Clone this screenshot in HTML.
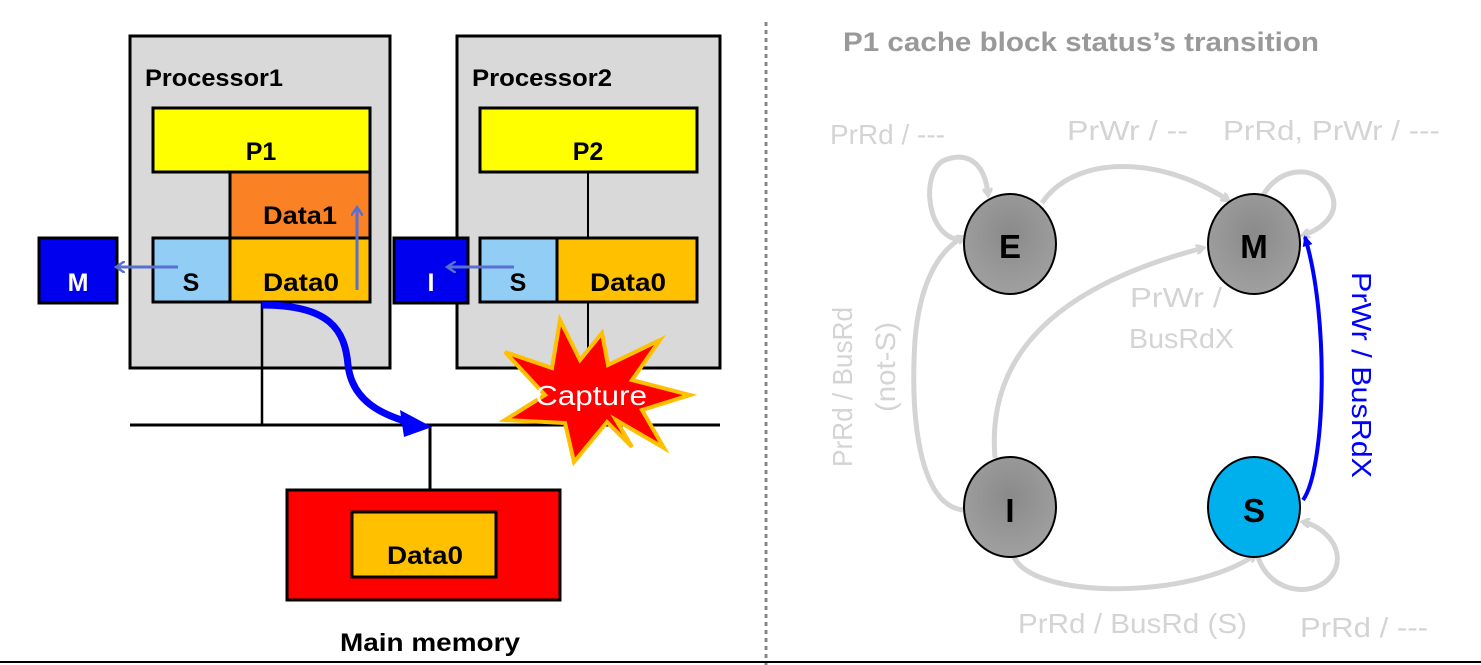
<!DOCTYPE html>
<html><head><meta charset="utf-8"><style>
body{margin:0;background:#fff}
svg{display:block}
text{font-family:"Liberation Sans",sans-serif}
</style></head><body>
<svg width="1481" height="665" viewBox="0 0 1481 665" xmlns="http://www.w3.org/2000/svg">
<defs>
<marker id="ag" markerWidth="10" markerHeight="10" refX="7" refY="5" orient="auto" markerUnits="userSpaceOnUse"><path d="M0,0 L8,5 L0,10" fill="none" stroke="#d4d4d4" stroke-width="3"/></marker>
<marker id="al" markerWidth="12" markerHeight="12" refX="8" refY="6" orient="auto" markerUnits="userSpaceOnUse"><path d="M0,0 L9,6 L0,12" fill="none" stroke="#5b6fd0" stroke-width="2.5"/></marker>
<marker id="abl" markerWidth="12" markerHeight="12" refX="9" refY="6" orient="auto" markerUnits="userSpaceOnUse"><path d="M0,1 L11,6 L0,11 z" fill="#00f"/></marker>
<radialGradient id="gg" cx="50%" cy="40%" r="60%"><stop offset="0" stop-color="#8a8a8a"/><stop offset="1" stop-color="#a0a0a0"/></radialGradient>
</defs>
<rect x="130" y="36" width="260" height="332" fill="#d9d9d9" stroke="#000" stroke-width="3"/>
<rect x="457" y="36" width="263" height="332" fill="#d9d9d9" stroke="#000" stroke-width="3"/>
<text x="145" y="86" font-size="24" font-weight="bold" textLength="138" lengthAdjust="spacingAndGlyphs">Processor1</text>
<text x="472" y="86" font-size="24" font-weight="bold" textLength="140" lengthAdjust="spacingAndGlyphs">Processor2</text>
<line x1="262" y1="302" x2="262" y2="425" stroke="#000" stroke-width="2.5"/>
<line x1="588" y1="172" x2="588" y2="238" stroke="#000" stroke-width="2"/>
<line x1="588" y1="302" x2="588" y2="380" stroke="#000" stroke-width="2"/>
<line x1="130" y1="425" x2="720" y2="425" stroke="#000" stroke-width="3"/>
<line x1="430" y1="425" x2="430" y2="490" stroke="#000" stroke-width="3"/>
<rect x="153" y="108" width="217" height="64" fill="#ffff00" stroke="#000" stroke-width="3"/>
<text x="261" y="160" font-size="25" font-weight="bold" text-anchor="middle">P1</text>
<rect x="230" y="172" width="140" height="66" fill="#fb8224" stroke="#000" stroke-width="3"/>
<text x="263" y="224" font-size="25" font-weight="bold" textLength="74" lengthAdjust="spacingAndGlyphs">Data1</text>
<rect x="153" y="238" width="77" height="64" fill="#92cdf5" stroke="#000" stroke-width="3"/>
<rect x="230" y="238" width="140" height="64" fill="#ffc000" stroke="#000" stroke-width="3"/>
<text x="191" y="291" font-size="25" font-weight="bold" text-anchor="middle">S</text>
<text x="263" y="291" font-size="25" font-weight="bold" textLength="76" lengthAdjust="spacingAndGlyphs">Data0</text>
<rect x="39" y="238" width="78" height="65" fill="#0000ee" stroke="#000" stroke-width="3"/>
<text x="78" y="291" font-size="25" font-weight="bold" fill="#fff" text-anchor="middle">M</text>
<line x1="178" y1="267" x2="117" y2="267" stroke="#5b6fd0" stroke-width="3" marker-end="url(#al)"/>
<line x1="357" y1="290" x2="357" y2="208" stroke="#5b6fd0" stroke-width="3" marker-end="url(#al)"/>
<rect x="480" y="108" width="217" height="64" fill="#ffff00" stroke="#000" stroke-width="3"/>
<text x="588" y="160" font-size="25" font-weight="bold" text-anchor="middle">P2</text>
<rect x="480" y="238" width="77" height="64" fill="#92cdf5" stroke="#000" stroke-width="3"/>
<rect x="557" y="238" width="140" height="64" fill="#ffc000" stroke="#000" stroke-width="3"/>
<text x="518" y="291" font-size="25" font-weight="bold" text-anchor="middle">S</text>
<text x="590" y="291" font-size="25" font-weight="bold" textLength="76" lengthAdjust="spacingAndGlyphs">Data0</text>
<rect x="394" y="238" width="74" height="65" fill="#0000ee" stroke="#000" stroke-width="3"/>
<text x="431" y="291" font-size="25" font-weight="bold" fill="#fff" text-anchor="middle">I</text>
<line x1="514" y1="267" x2="448" y2="267" stroke="#5b6fd0" stroke-width="3" marker-end="url(#al)"/>
<path d="M262,305 C330,305 345,330 348,365 C352,400 380,415 415,424" fill="none" stroke="#0000ff" stroke-width="7"/>
<path d="M400,410 L432,427 L404,437 z" fill="#0000ff"/>
<polygon points="632,447 607,422 574,462 565,423 505,420 545,395 505,352 552,368 560,320 580,360 602,333 608,365 660,340 632,380 690,395 642,410 664,448 616,420" fill="#ff0000" stroke="#ffc000" stroke-width="4"/>
<text x="535" y="405" font-size="28" fill="#fff" textLength="112" lengthAdjust="spacingAndGlyphs">Capture</text>
<rect x="287" y="490" width="273" height="110" fill="#ff0000" stroke="#000" stroke-width="3"/>
<rect x="352" y="512" width="144" height="65" fill="#ffc000" stroke="#000" stroke-width="3"/>
<text x="387" y="564" font-size="25" font-weight="bold" textLength="76" lengthAdjust="spacingAndGlyphs">Data0</text>
<text x="340" y="651" font-size="25" font-weight="bold" textLength="180" lengthAdjust="spacingAndGlyphs">Main memory</text>
<line x1="766" y1="22" x2="766" y2="665" stroke="#888" stroke-width="3" stroke-dasharray="4,4"/>
<line x1="0" y1="662" x2="1481" y2="662" stroke="#000" stroke-width="2"/>
<text x="843" y="51" font-size="27" font-weight="bold" fill="#999" textLength="476" lengthAdjust="spacingAndGlyphs">P1 cache block status’s transition</text>
<g fill="none" stroke="#d4d4d4" stroke-width="5">
<path d="M963,240 C925,240 920,170 945,160 C965,152 985,160 988,195" marker-end="url(#ag)"/>
<path d="M1042,203 C1070,160 1150,150 1228,200" marker-end="url(#ag)"/>
<path d="M1258,208 C1270,165 1320,160 1332,195 C1340,215 1320,230 1303,235" marker-end="url(#ag)"/>
<path d="M963,510 C920,505 910,420 915,340 C920,280 940,250 963,237" marker-end="url(#ag)"/>
<path d="M995,458 C985,340 1080,280 1203,248" marker-end="url(#ag)"/>
<path d="M1013,555 C1030,600 1190,600 1255,555" marker-end="url(#ag)"/>
<path d="M1258,557 C1270,595 1320,600 1335,570 C1345,545 1320,525 1303,522" marker-end="url(#ag)"/>
</g>
<path d="M1303,500 C1325,470 1330,320 1305,237" fill="none" stroke="#0000ff" stroke-width="4" marker-end="url(#abl)"/>
<ellipse cx="1010" cy="244" rx="46" ry="50" fill="url(#gg)" stroke="#000" stroke-width="2"/>
<ellipse cx="1254" cy="244" rx="46" ry="50" fill="url(#gg)" stroke="#000" stroke-width="2"/>
<ellipse cx="1010" cy="507" rx="46" ry="50" fill="url(#gg)" stroke="#000" stroke-width="2"/>
<ellipse cx="1254" cy="507" rx="46" ry="50" fill="#00b0ec" stroke="#000" stroke-width="2"/>
<g font-size="33" font-weight="bold" text-anchor="middle">
<text x="1010" y="258">E</text><text x="1254" y="258">M</text><text x="1010" y="522">I</text><text x="1254" y="522">S</text>
</g>
<g font-size="28" fill="#d4d4d4" lengthAdjust="spacingAndGlyphs">
<text x="830" y="144" textLength="115" lengthAdjust="spacingAndGlyphs">PrRd / ---</text>
<text x="1067" y="140" textLength="121" lengthAdjust="spacingAndGlyphs">PrWr / --</text>
<text x="1223" y="140" textLength="217" lengthAdjust="spacingAndGlyphs">PrRd, PrWr / ---</text>
<text x="1130" y="307" textLength="92" lengthAdjust="spacingAndGlyphs">PrWr /</text>
<text x="1129" y="348" textLength="105" lengthAdjust="spacingAndGlyphs">BusRdX</text>
<text x="1018" y="633" textLength="229" lengthAdjust="spacingAndGlyphs">PrRd / BusRd (S)</text>
<text x="1300" y="637" textLength="128" lengthAdjust="spacingAndGlyphs">PrRd / ---</text>
<text transform="translate(852,467) rotate(-90)" textLength="160" lengthAdjust="spacingAndGlyphs">PrRd / BusRd</text>
<text transform="translate(895,412) rotate(-90)" textLength="90" lengthAdjust="spacingAndGlyphs">(not-S)</text>
</g>
<text transform="translate(1352,272) rotate(90)" font-size="28" fill="#0000ff" textLength="206" lengthAdjust="spacingAndGlyphs">PrWr / BusRdX</text>
</svg>
</body></html>
